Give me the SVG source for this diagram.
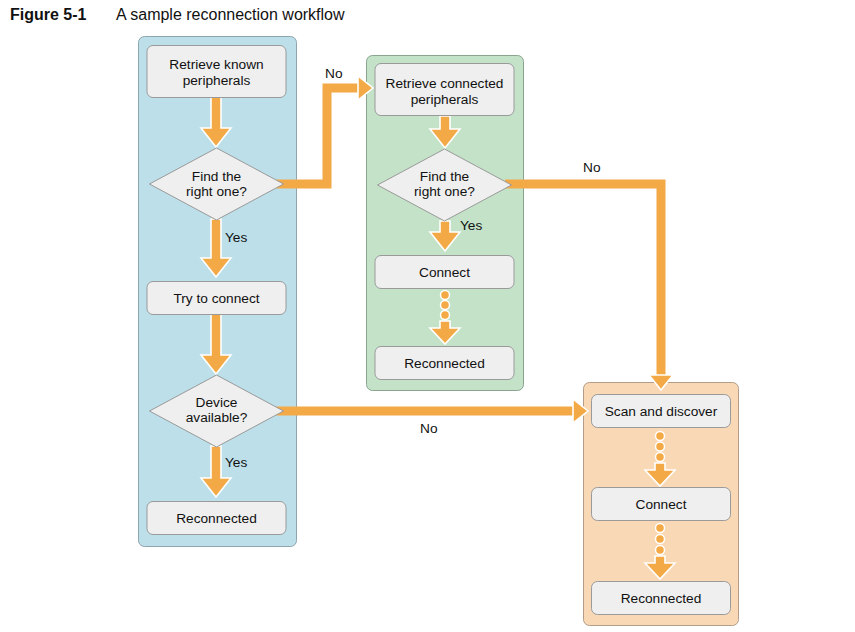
<svg xmlns="http://www.w3.org/2000/svg" width="855" height="632" viewBox="0 0 855 632">
<style>
text{font-family:"Liberation Sans",Arial,sans-serif;font-size:13.7px;fill:#111}
.title{font-size:16px}
.c{text-anchor:middle}
.box{fill:#efefef;stroke:#9a9a9a;stroke-width:1}
.dia{fill:#efefef;stroke:#9a9a9a;stroke-width:1}
.arr{fill:#f4a947;stroke:#fff;stroke-width:1.6;stroke-linejoin:miter}
.dot{fill:#f4a947;stroke:#fff;stroke-width:1.5}
.sh{fill:none;stroke:#f4a947;stroke-width:9}
</style>
<rect width="855" height="632" fill="#fff"/>
<g id="title">
<text class="title" x="10" y="20" font-weight="bold">Figure 5-1</text>
<text class="title" x="116" y="20">A sample reconnection workflow</text>
</g>
<g id="panels">
<rect x="138.5" y="36.5" width="158" height="510" rx="6" fill="#bcdfe9" stroke="#8fa5ad"/>
<rect x="366.5" y="55.5" width="157" height="335" rx="6" fill="#c3e2c8" stroke="#8ba490"/>
<rect x="583.5" y="382.5" width="155" height="243" rx="6" fill="#f9d8b6" stroke="#b39c88"/>
</g>
<g id="connectors">
<polygon class="arr" points="211,97 221,97 221,128 231,128 216,147 201,128 211,128"/>
<polygon class="arr" points="211,219 221,219 221,258 231,258 216,277 201,258 211,258"/>
<polygon class="arr" points="211,314 221,314 221,355 231,355 216,374 201,355 211,355"/>
<polygon class="arr" points="211,446 221,446 221,478 231,478 216,497 201,478 211,478"/>
<polygon class="arr" points="440,116 450,116 450,129 460,129 445,148 430,129 440,129"/>
<polygon class="arr" points="440,221 450,221 450,232 460,232 445,251 430,232 440,232"/>
<circle class="dot" cx="445" cy="295" r="4.5"/>
<circle class="dot" cx="445" cy="305" r="4.5"/>
<circle class="dot" cx="445" cy="315" r="4.5"/>
<polygon class="arr" points="440,321 450,321 450,328 460,328 445,344 430,328 440,328"/>
<circle class="dot" cx="660" cy="436" r="4.5"/>
<circle class="dot" cx="660" cy="446.5" r="4.5"/>
<circle class="dot" cx="660" cy="457" r="4.5"/>
<polygon class="arr" points="655,463 665,463 665,470 675,470 660,486 645,470 655,470"/>
<circle class="dot" cx="660" cy="528" r="4.5"/>
<circle class="dot" cx="660" cy="539" r="4.5"/>
<circle class="dot" cx="660" cy="550" r="4.5"/>
<polygon class="arr" points="655,556 665,556 665,563 675,563 660,579 645,563 655,563"/>
<path class="sh" d="M276,184 H327 V88 H360"/>
<polygon class="arr" points="358,76 373,88 358,100"/>
<path class="sh" d="M505,184 H661 V377"/>
<polygon class="arr" points="649,375 661,390 673,375"/>
<path class="sh" d="M276,411 H575"/>
<polygon class="arr" points="573,399 588,411 573,423"/>
</g>
<g id="n-retrieve-known">
<rect class="box" x="147" y="45.5" width="139" height="52" rx="6"/>
<text class="c" x="216.5" y="68.5">Retrieve known</text>
<text class="c" x="216.5" y="84.5">peripherals</text>
</g>
<g id="n-find1">
<polygon class="dia" points="216.5,148 283.5,184 216.5,220 149.5,184"/>
<text class="c" x="216.5" y="181">Find the</text>
<text class="c" x="216.5" y="196">right one?</text>
</g>
<g id="n-try">
<rect class="box" x="147" y="281.5" width="139" height="33" rx="6"/>
<text class="c" x="216.5" y="302.5">Try to connect</text>
</g>
<g id="n-device">
<polygon class="dia" points="216.5,375 283.5,411 216.5,447 149.5,411"/>
<text class="c" x="216.5" y="407">Device</text>
<text class="c" x="216.5" y="422">available?</text>
</g>
<g id="n-reconnected1">
<rect class="box" x="147" y="501.5" width="139" height="33" rx="6"/>
<text class="c" x="216.5" y="522.5">Reconnected</text>
</g>
<g id="n-retrieve-connected">
<rect class="box" x="375" y="63.5" width="139" height="52" rx="6"/>
<text class="c" x="444.5" y="87.5">Retrieve connected</text>
<text class="c" x="444.5" y="103.5">peripherals</text>
</g>
<g id="n-find2">
<polygon class="dia" points="444.5,149 511.5,185 444.5,221 377.5,185"/>
<text class="c" x="444.5" y="181">Find the</text>
<text class="c" x="444.5" y="196">right one?</text>
</g>
<g id="n-connect-green">
<rect class="box" x="375" y="255.5" width="139" height="33" rx="6"/>
<text class="c" x="444.5" y="276.5">Connect</text>
</g>
<g id="n-reconnected-green">
<rect class="box" x="375" y="346.5" width="139" height="33" rx="6"/>
<text class="c" x="444.5" y="367.5">Reconnected</text>
</g>
<g id="n-scan">
<rect class="box" x="591.5" y="394.5" width="139" height="33" rx="6"/>
<text class="c" x="661" y="415.5">Scan and discover</text>
</g>
<g id="n-connect-orange">
<rect class="box" x="591.5" y="487.5" width="139" height="33" rx="6"/>
<text class="c" x="661" y="508.5">Connect</text>
</g>
<g id="n-reconnected-orange">
<rect class="box" x="591.5" y="581.5" width="139" height="33" rx="6"/>
<text class="c" x="661" y="602.5">Reconnected</text>
</g>
<g id="labels">
<text x="225" y="242">Yes</text>
<text x="225" y="467">Yes</text>
<text x="460" y="230">Yes</text>
<text x="325" y="78">No</text>
<text x="583" y="172">No</text>
<text x="420" y="433">No</text>
</g>
</svg>
